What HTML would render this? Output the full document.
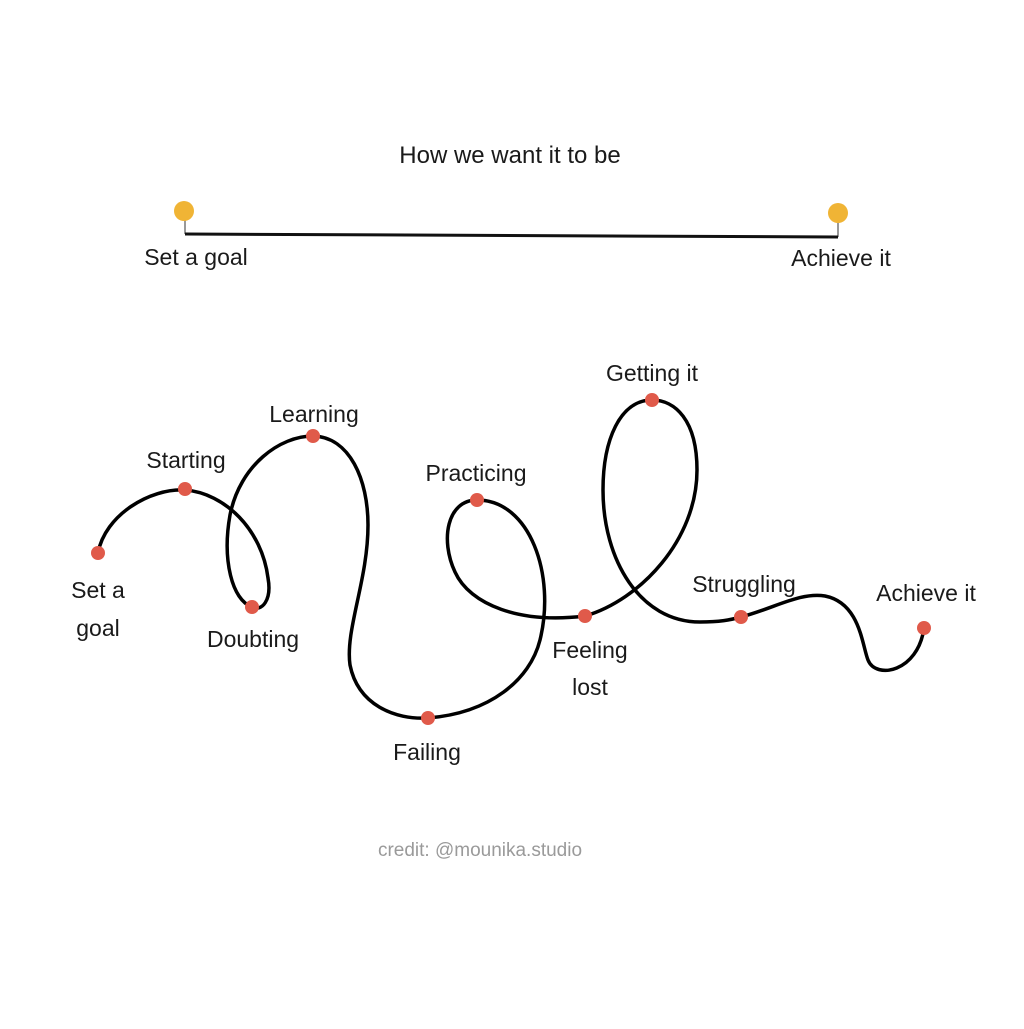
<!DOCTYPE html>
<html><head><style>
body{margin:0;background:#fff;}
svg text{font-family:"Liberation Sans",sans-serif;fill:#1a1a1a;}
</style></head><body>
<svg width="1024" height="1024" viewBox="0 0 1024 1024" xmlns="http://www.w3.org/2000/svg">
<rect width="1024" height="1024" fill="#fff"/>
<text x="510" y="163" font-size="24" text-anchor="middle">How we want it to be</text>
<line x1="185" y1="213" x2="185" y2="234" stroke="#999" stroke-width="2"/>
<line x1="838" y1="215" x2="838" y2="237" stroke="#999" stroke-width="2"/>
<line x1="185" y1="234" x2="838" y2="237" stroke="#111" stroke-width="3"/>
<circle cx="184" cy="211" r="10" fill="#f0b435"/>
<circle cx="838" cy="213" r="10" fill="#f0b435"/>
<text x="196" y="265" font-size="23" text-anchor="middle">Set a goal</text>
<text x="841" y="266" font-size="23" text-anchor="middle">Achieve it</text>

<path d="M98,553 C105,515 150,488 185,490 C225,493 262,530 268,578 C272,600 262,612 252,607 C232,600 222,560 230,515 C240,465 280,436 313,436 C350,437 368,480 368,525 C368,580 345,630 350,665 C358,705 395,720 428,718 C490,713 530,680 540,640 C556,575 530,500 477,500 C447,500 440,540 455,572 C470,605 520,624 585,616 C640,600 697,540 697,470 C697,420 675,400 652,400 C620,400 603,440 603,490 C603,560 640,622 700,622 C720,622 730,620 741,617 C775,608 800,592 825,596 C860,603 862,645 868,660 C876,680 918,672 924,628" fill="none" stroke="#000" stroke-width="3.5"/>

<g fill="#e05a4a">
<circle cx="98" cy="553" r="7"/>
<circle cx="185" cy="489" r="7"/>
<circle cx="252" cy="607" r="7"/>
<circle cx="313" cy="436" r="7"/>
<circle cx="428" cy="718" r="7"/>
<circle cx="477" cy="500" r="7"/>
<circle cx="585" cy="616" r="7"/>
<circle cx="652" cy="400" r="7"/>
<circle cx="741" cy="617" r="7"/>
<circle cx="924" cy="628" r="7"/>
</g>
<g font-size="23" text-anchor="middle">
<text x="98" y="598">Set a</text>
<text x="98" y="636">goal</text>
<text x="186" y="468">Starting</text>
<text x="253" y="647">Doubting</text>
<text x="314" y="422">Learning</text>
<text x="427" y="760">Failing</text>
<text x="476" y="481">Practicing</text>
<text x="590" y="658">Feeling</text>
<text x="590" y="695">lost</text>
<text x="652" y="381">Getting it</text>
<text x="744" y="592">Struggling</text>
<text x="926" y="601">Achieve it</text>
</g>
<text x="480" y="856" font-size="19" text-anchor="middle" style="fill:#9a9a9a">credit: @mounika.studio</text>
</svg>
</body></html>
